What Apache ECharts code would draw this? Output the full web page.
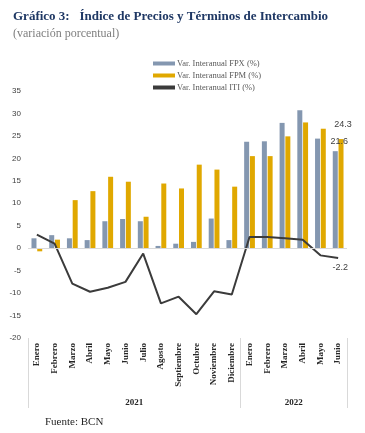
<!DOCTYPE html>
<html>
<head>
<meta charset="utf-8">
<script src="https://cdn.jsdelivr.net/npm/echarts@6/dist/echarts.min.js"></script>
<style>
html,body{margin:0;padding:0;background:#fff;}
#c{width:365px;height:433px;}
</style>
</head>
<body>
<div id="c"></div>
<script>
var months = ['Enero','Febrero','Marzo','Abril','Mayo','Junio','Julio','Agosto','Septiembre','Octubre','Noviembre','Diciembre','Enero','Febrero','Marzo','Abril','Mayo','Junio'];
var fpx = [2.2, 2.9, 2.2, 1.8, 6.0, 6.5, 6.0, 0.5, 1.0, 1.4, 6.6, 1.8, 23.7, 23.8, 27.9, 30.7, 24.4, 21.6];
var fpm = [-0.7, 1.9, 10.7, 12.7, 15.9, 14.8, 7.0, 14.4, 13.3, 18.6, 17.5, 13.7, 20.5, 20.5, 24.9, 28.0, 26.6, 24.3];
var iti = [3.0, 1.0, -7.9, -9.7, -8.8, -7.5, -1.2, -12.3, -10.8, -14.7, -9.6, -10.3, 2.5, 2.5, 2.2, 1.9, -1.6, -2.2];
var years = ['2021', '2022'];
var yearMonths = [12, 6];
var seriesNames = ['Var. Interanual FPX (%)', 'Var. Interanual FPM (%)', 'Var. Interanual ITI (%)'];

var serif = '"Liberation Serif", "Times New Roman", serif';
var sans = '"Liberation Sans", Arial, sans-serif';
var lastIdx = months.length - 1;
function withLastLabel(arr, pos) {
  return arr.map(function (v, i) {
    return i === lastIdx ? {value: v, label: {show: true, position: pos}} : v;
  });
}
var yearCentres = {};
var acc = 0;
years.forEach(function (y, i) { yearCentres[acc + yearMonths[i] / 2] = y; acc += yearMonths[i]; });
var groupStarts = [0];
acc = 0;
yearMonths.forEach(function (n) { acc += n; groupStarts.push(acc); });

var chart = echarts.init(document.getElementById('c'));
chart.setOption({
  animation: false,
  title: [
    {text: 'Gráfico 3:   Índice de Precios y Términos de Intercambio', left: 8, top: 5,
     textStyle: {fontFamily: serif, fontSize: 13, fontWeight: 'bold', color: '#1F3864'}},
    {text: '(variación porcentual)', left: 8, top: 23,
     textStyle: {fontFamily: serif, fontSize: 12, fontWeight: 'normal', color: '#7F7F7F'}},
    {text: 'Fuente: BCN', left: 40, top: 412,
     textStyle: {fontFamily: serif, fontSize: 11, fontWeight: 'normal', color: '#262626'}}
  ],
  legend: {
    orient: 'vertical', left: 148, top: 54, itemWidth: 22, itemHeight: 4, itemGap: 3,
    icon: 'rect', data: seriesNames,
    textStyle: {fontFamily: serif, fontSize: 8.5, color: '#595959', padding: [0, 0, 0, -3]}
  },
  grid: {left: 28, right: 18, top: 91, bottom: 95, containLabel: false},
  xAxis: [
    {type: 'category', data: months, position: 'bottom',
     axisLine: {show: false, onZero: false},
     axisTick: {show: true, length: 70, lineStyle: {color: '#D9D9D9', width: 1},
       interval: function (idx) { return groupStarts.indexOf(idx) >= 0; }},
     axisLabel: {rotate: 90, interval: 0, margin: 5, fontFamily: serif, fontSize: 9, fontWeight: 'bold', color: '#262626'}},
    {type: 'value', min: 0, max: 18, interval: 1.5, position: 'bottom',
     axisLine: {show: false, onZero: false}, axisTick: {show: false}, splitLine: {show: false},
     axisLabel: {margin: 60, fontFamily: serif, fontSize: 9, fontWeight: 'bold', color: '#262626',
       showMinLabel: false, showMaxLabel: false,
       formatter: function (v) { return yearCentres[v] || ''; }}}
  ],
  yAxis: {type: 'value', min: -20, max: 35, interval: 5,
    axisLine: {show: false}, axisTick: {show: false}, splitLine: {show: false},
    axisLabel: {margin: 7, fontFamily: sans, fontSize: 8, color: '#404040'}},
  series: [
    {name: seriesNames[0], type: 'bar', data: withLastLabel(fpx, 'top'), barWidth: 5, barGap: '15%',
     itemStyle: {color: '#8497B0'},
     label: {show: false, fontFamily: sans, fontSize: 9, color: '#404040', offset: [4, 0]},
     markLine: {silent: true, symbol: 'none', label: {show: false},
       lineStyle: {color: '#D9D9D9', width: 1, type: 'solid'}, data: [{yAxis: 0}]}},
    {name: seriesNames[1], type: 'bar', data: withLastLabel(fpm, 'top'), barWidth: 5,
     itemStyle: {color: '#E0A800'},
     label: {show: false, fontFamily: sans, fontSize: 9, color: '#404040', offset: [2, -5]}},
    {name: seriesNames[2], type: 'line', data: withLastLabel(iti, 'bottom'), symbol: 'circle', symbolSize: 0.1, showSymbol: true,
     lineStyle: {color: '#3B3B3B', width: 2}, itemStyle: {color: '#3B3B3B'},
     label: {show: false, fontFamily: sans, fontSize: 9, color: '#404040', offset: [2, 0]}}
  ]
});
</script>
</body>
</html>
